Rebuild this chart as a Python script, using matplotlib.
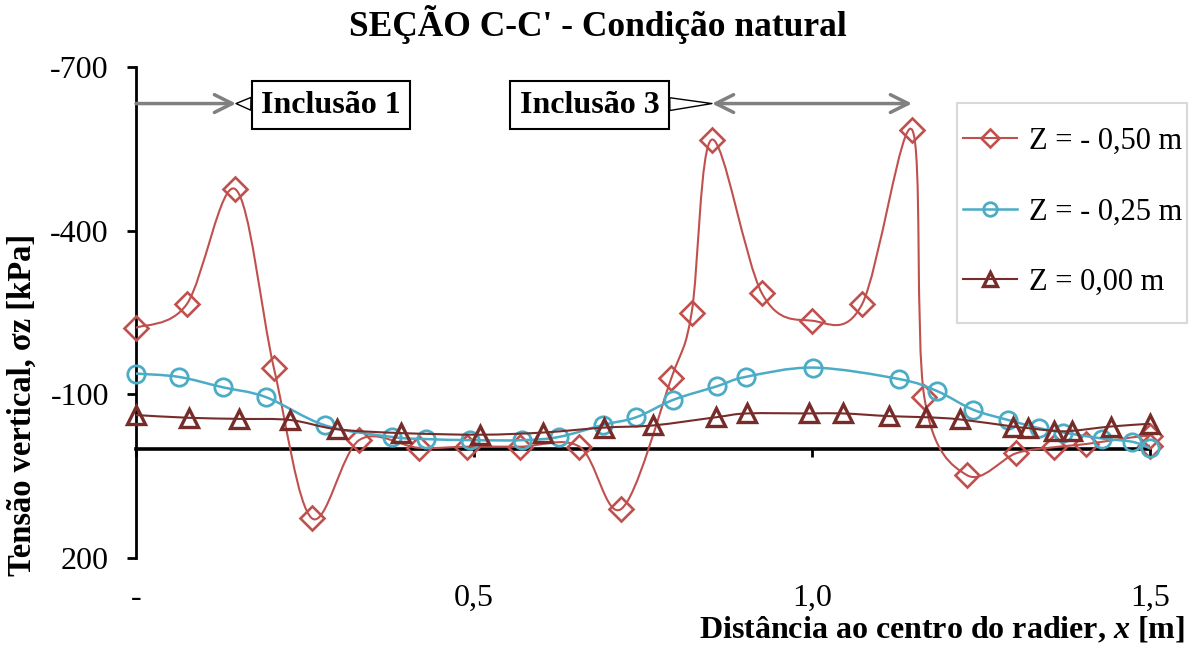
import numpy as np
import matplotlib
matplotlib.use('Agg')
import matplotlib.pyplot as plt
import matplotlib.transforms as mtransforms
from matplotlib.path import Path
from matplotlib.patches import PathPatch, Rectangle
from matplotlib.lines import Line2D

plt.rcParams['font.family'] = ['Liberation Serif', 'DejaVu Serif']
plt.rcParams['mathtext.fontset'] = 'custom'
plt.rcParams['mathtext.rm'] = 'Liberation Serif'
plt.rcParams['mathtext.it'] = 'Liberation Serif:italic'
plt.rcParams['mathtext.bf'] = 'Liberation Serif:bold'
plt.rcParams['mathtext.bfit'] = 'Liberation Serif:bold:italic'

# dados (x em m, tensao em kPa)
x_050 = [0, 0.075, 0.147, 0.204, 0.26, 0.33, 0.418, 0.489, 0.568, 0.656, 0.718, 0.792,
         0.822, 0.852, 0.926, 1.0, 1.074, 1.148, 1.166, 1.229, 1.302, 1.358, 1.406, 1.5, 1.5]
s_050 = [-222, -265, -476, -148, 127, -16, -2, -4, -4, -4, 110, -130,
         -250, -567, -285, -235, -265, -585, -96, 48, 8, -3, -9, -24, -5]

x_025 = [0, 0.063, 0.128, 0.192, 0.28, 0.378, 0.429, 0.494, 0.571, 0.626, 0.691, 0.74, 0.795,
         0.86, 0.902, 1.002, 1.129, 1.185, 1.238, 1.29, 1.336, 1.372, 1.429, 1.474, 1.5]
s_025 = [-138, -132, -113, -95, -43, -22, -18, -16, -16, -22, -44, -58, -90,
         -115, -132, -149, -128, -106, -72, -53, -38, -30, -19, -13, -1]

x_000 = [0, 0.078, 0.153, 0.228, 0.297, 0.392, 0.509, 0.602, 0.692, 0.765, 0.858, 0.904,
         0.995, 1.046, 1.114, 1.169, 1.219, 1.297, 1.32, 1.358, 1.384, 1.442, 1.5]
s_000 = [-62, -57, -55, -53, -36, -29, -26, -30, -39, -43, -58, -65,
         -65, -65, -60, -58, -54, -41, -38, -33, -33, -41, -46]

labels = ['Z = - 0,50 m', 'Z = - 0,25 m', 'Z = 0,00 m']
yticks = [-700, -400, -100, 200]
xticks = [0, 0.5, 1.0, 1.5]
xticklabels = ['-', '0,5', '1,0', '1,5']

# faixas das inclusoes (setas)
inc1 = (0.0, 0.148)
inc3 = (0.852, 1.148)
y_seta = -633


def linha_suave(xs, ys):
    # curva suavizada tipo Excel (Bezier / Catmull-Rom)
    p = np.column_stack([xs, ys]).astype(float)
    n = len(p)
    verts = [p[0]]
    codes = [Path.MOVETO]
    for i in range(n - 1):
        p0 = p[max(i - 1, 0)]
        p1 = p[i]
        p2 = p[i + 1]
        p3 = p[min(i + 2, n - 1)]
        verts += [p1 + (p2 - p0) / 6, p2 - (p3 - p1) / 6, p2]
        codes += [Path.CURVE4] * 3
    return Path(verts, codes)


fig = plt.figure(figsize=(11.96, 6.5), dpi=100)
ax = fig.add_axes([136 / 1196, 1 - 558 / 650, (1150 - 136) / 1196, (558 - 67) / 650])

series = [
    (x_050, s_050, '#C0504D', 'D', 12, 1.5, 1.9),
    (x_025, s_025, '#4BACC6', 'o', 12.5, 1.8, 2.0),
    (x_000, s_000, '#772C2A', '^', 12.5, 1.5, 2.4),
]
handles = []
for k, (xs, ys, cor, mk, ms, lw, mew) in enumerate(series):
    ax.add_patch(PathPatch(linha_suave(xs, ys), facecolor='none', edgecolor=cor,
                           lw=lw, zorder=3 + k))
    ax.plot(xs, ys, ls='none', marker=mk, ms=ms, mec=cor, mfc='none', mew=mew,
            zorder=3 + k, clip_on=False)
    handles.append(Line2D([], [], color=cor, lw=lw, marker=mk, ms=ms * 0.78,
                          mec=cor, mfc='none', mew=mew))

ax.set_xlim(0, 1.5)
ax.set_ylim(200, -700)

ax.spines['top'].set_visible(False)
ax.spines['right'].set_visible(False)
ax.spines['left'].set_linewidth(2)
ax.spines['bottom'].set_position(('data', 0))
ax.spines['bottom'].set_linewidth(2.6)
ax.spines['bottom'].set_zorder(2)

ax.set_yticks(yticks)
ax.set_yticklabels([str(v) for v in yticks])
ax.tick_params(axis='y', direction='out', length=6.5, width=2, labelsize=23, pad=13)
ax.set_xticks(xticks)
ax.tick_params(axis='x', direction='out', length=6, width=2, labelbottom=False)

trans = mtransforms.blended_transform_factory(ax.transData, ax.transAxes)
for v, t in zip(xticks, xticklabels):
    ax.text(v, -0.082, t, transform=trans, ha='center', va='center', fontsize=23)

# setas das inclusoes
ax.annotate('', xy=(inc1[1], y_seta), xytext=(inc1[0], y_seta),
            arrowprops=dict(arrowstyle='->', color='#808080', lw=2.5,
                            mutation_scale=32, shrinkA=0, shrinkB=0))
ax.annotate('', xy=(inc3[1], y_seta), xytext=(inc3[0], y_seta),
            arrowprops=dict(arrowstyle='<->', color='#808080', lw=2.5,
                            mutation_scale=32, shrinkA=0, shrinkB=0))

caixa = dict(boxstyle='square,pad=0.3', fc='white', ec='black', lw=1.5)
ax.annotate('Inclusão 1', xy=(inc1[1], y_seta), xytext=(0.2885, -630),
            ha='center', va='center', fontsize=23, fontweight='bold', bbox=caixa,
            arrowprops=dict(arrowstyle='wedge,tail_width=0.4', fc='white', ec='black',
                            lw=1, shrinkA=0, shrinkB=0), zorder=8)
ax.annotate('Inclusão 3', xy=(inc3[0], y_seta), xytext=(0.671, -630),
            ha='center', va='center', fontsize=23, fontweight='bold', bbox=caixa,
            arrowprops=dict(arrowstyle='wedge,tail_width=0.4', fc='white', ec='black',
                            lw=1, shrinkA=0, shrinkB=0), zorder=8)

# legenda (moldura desenhada a parte)
fig.patches.append(Rectangle((957 / 1196, 1 - 323 / 650), 230 / 1196, 220 / 650,
                             transform=fig.transFigure, fill=False, ec='#D9D9D9', lw=1.5))
leg = fig.legend(handles, labels, loc='upper left',
                 bbox_to_anchor=(963 / 1196, 1 - 127 / 650), fontsize=22,
                 frameon=False, labelspacing=1.36, handlelength=1.77,
                 handletextpad=0.39, borderpad=0, borderaxespad=0)

fig.text(0.5, 1 - 25 / 650, "SEÇÃO C-C' - Condição natural", ha='center', va='center',
         fontsize=25.5, fontweight='bold')
fig.text(22 / 1196, 1 - 405 / 650, 'Tensão vertical, σz [kPa]', rotation=90,
         ha='center', va='center', fontsize=23.5, fontweight='bold')
fig.text(1185 / 1196, 1 - 630 / 650, r'Distância ao centro do radier, $\mathbfit{x}$ [m]',
         ha='right', va='center', fontsize=23, fontweight='bold')

fig.savefig('out.png', dpi=100)
